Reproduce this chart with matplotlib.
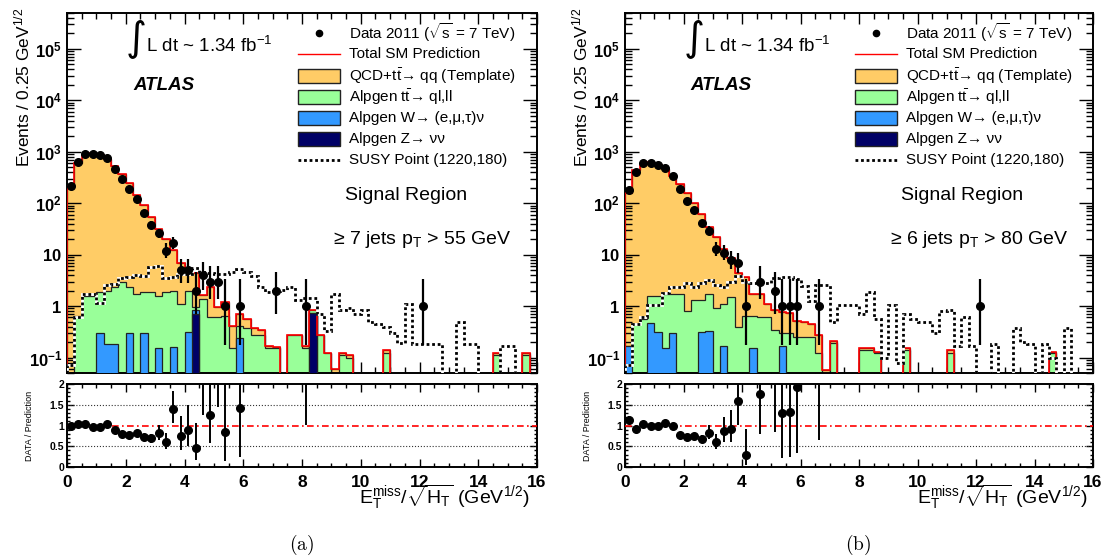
import math
import numpy as np
import matplotlib
matplotlib.use("Agg")
import matplotlib.pyplot as plt
from matplotlib.patches import Rectangle
from matplotlib.lines import Line2D
from matplotlib.ticker import (LogLocator, NullFormatter, FuncFormatter,
                               MultipleLocator, FixedLocator)

plt.rcParams['font.family'] = ['Liberation Sans', 'DejaVu Sans']
plt.rcParams['mathtext.fontset'] = 'custom'
plt.rcParams['mathtext.rm'] = 'Liberation Sans'
plt.rcParams['mathtext.it'] = 'Liberation Sans:italic'
plt.rcParams['mathtext.bf'] = 'Liberation Sans:bold'

# 64 bins of 0.25 GeV^1/2 between 0 and 16
edges = np.linspace(0, 16, 65)

# ---- panel (a): >= 7 jets pT > 55 GeV ----
data_a = [220, 630, 890, 915, 850, 765, 465, 297, 190, 121,
          66, 38, 26, 12, 17, 5, 5, 2, 4, 3,
          3, 1, 0, 1, 0, 0, 0, 0, 2, 0,
          0, 0, 1, 0, 0, 0, 0, 0, 0, 0,
          0, 0, 0, 0, 0, 0, 0, 0, 1, 0,
          0, 0, 0, 0, 0, 0, 0, 0, 0, 0,
          0, 0, 0, 0]
qcd_a = [220, 604, 853, 951, 883, 733, 526, 368, 242, 146,
         90, 53, 30.4, 18.1, 10.2, 5.7, 3.6, 3.45, 0.27, 1.8,
         0.34, 0.53, 0.26, 0.29, 0.17, 0.09, 0.07, 0.02, 0.01, 0,
         0.01, 0.01, 0.02, 0, 0.01, 0, 0.06, 0.01, 0.01, 0,
         0, 0, 0, 0.02, 0, 0, 0, 0, 0, 0,
         0, 0, 0, 0, 0, 0, 0, 0, 0.01, 0,
         0, 0, 0.01, 0]
tt_a = [0, 0.64, 1.6, 1.6, 1.6, 1.82, 2.12, 2.9, 2.0, 1.7,
        1.6, 1.9, 1.45, 1.9, 1.84, 1.1, 1.69, 0.1, 1.4, 0.6,
        0.6, 0.65, 0.15, 0.17, 0.38, 0.28, 0.28, 0.15, 0.15, 0,
        0.27, 0.27, 0.15, 0.09, 0.27, 0.12, 0, 0.11, 0.10, 0,
        0, 0, 0, 0.12, 0, 0, 0, 0, 0, 0,
        0, 0, 0, 0, 0, 0, 0, 0, 0.11, 0,
        0, 0, 0.11, 0]
w_a = [0, 0, 0, 0, 0.30, 0.18, 0.18, 0, 0.30, 0,
       0.30, 0, 0.15, 0, 0.16, 0, 0.31, 0.15, 0, 0,
       0, 0, 0, 0.24, 0, 0, 0, 0, 0, 0,
       0, 0, 0, 0, 0, 0, 0, 0, 0, 0,
       0, 0, 0, 0, 0, 0, 0, 0, 0, 0,
       0, 0, 0, 0, 0, 0, 0, 0, 0, 0,
       0, 0, 0, 0]
z_a = [0, 0, 0, 0, 0, 0, 0, 0, 0, 0,
       0, 0, 0, 0, 0, 0, 0, 0.7, 0, 0,
       0, 0, 0, 0, 0, 0, 0, 0, 0, 0,
       0, 0, 0, 0.74, 0, 0, 0, 0, 0, 0,
       0, 0, 0, 0, 0, 0, 0, 0, 0, 0,
       0, 0, 0, 0, 0, 0, 0, 0, 0, 0,
       0, 0, 0, 0]
susy_a = [0.07, 0.6, 1.7, 1.7, 1.15, 2.6, 2.7, 3.5, 3.6, 4.0,
          3.9, 5.8, 5.9, 3.5, 3.6, 4.2, 4.3, 5.5, 4.5, 4.4,
          4.2, 4.2, 4.6, 5.3, 4.5, 3.8, 2.4, 1.9, 2.0, 2.1,
          2.3, 1.3, 1.45, 1.45, 0.7, 0.33, 1.7, 0.85, 0.9, 0.7,
          0.85, 0.5, 0.45, 0.4, 0.3, 0.19, 1.1, 0.18, 0.18, 0.18,
          0.18, 0, 0, 0.5, 0.18, 0.18, 0, 0, 0, 0.17,
          0.17, 0, 0, 0]

# ---- panel (b): >= 6 jets pT > 80 GeV ----
data_b = [177, 400, 612, 612, 550, 490, 336, 185, 112, 75,
          41, 29, 13, 11, 8, 7, 1, 0, 3, 0,
          2, 1, 1, 1, 0, 0, 1, 0, 0, 0,
          0, 0, 0, 0, 0, 0, 0, 0, 0, 0,
          0, 0, 0, 0, 0, 0, 0, 0, 1, 0,
          0, 0, 0, 0, 0, 0, 0, 0, 0, 0,
          0, 0, 0, 0]
qcd_b = [154.8, 439.5, 587.4, 622.4, 559.4, 460.3, 341.3, 235.3, 155.2, 99.7,
         59.7, 33.3, 21.1, 11.7, 7.2, 4.0, 2.95, 1.05, 1.1, 0.5,
         0.5, 0.47, 0.45, 0.27, 0.25, 0.2, 0.15, 0.058, 0.02, 0,
         0, 0, 0.01, 0.01, 0.01, 0, 0, 0, 0.01, 0,
         0, 0, 0, 0, 0.02, 0, 0, 0, 0, 0,
         0, 0, 0, 0, 0, 0, 0, 0, 0.01, 0,
         0, 0, 0, 0]
tt_b = [0, 0.45, 0.55, 1.08, 1.24, 1.55, 1.4, 1.7, 0.8, 1.3,
        0.98, 1.37, 0.9, 0.93, 1.5, 0.4, 0.65, 0.5, 0.6, 0.6,
        0.35, 0.13, 0.3, 0.25, 0.25, 0.25, 0.12, 0, 0.19, 0,
        0, 0, 0.14, 0.14, 0.12, 0, 0, 0, 0.14, 0,
        0, 0, 0, 0, 0.12, 0, 0, 0, 0, 0,
        0, 0, 0, 0, 0, 0, 0, 0, 0.12, 0,
        0, 0, 0, 0]
w_b = [0.17, 0, 0, 0.47, 0.31, 0.15, 0.30, 0, 0, 0,
       0.32, 0.33, 0, 0.17, 0, 0, 0, 0.15, 0, 0,
       0, 0.17, 0, 0, 0, 0, 0, 0, 0, 0,
       0, 0, 0, 0, 0, 0, 0, 0, 0, 0,
       0, 0, 0, 0, 0, 0, 0, 0, 0, 0,
       0, 0, 0, 0, 0, 0, 0, 0, 0, 0,
       0, 0, 0, 0]
z_b = [0] * 64
susy_b = [0.07, 0.45, 0.6, 1.05, 1.05, 1.8, 2.3, 2.3, 2.8, 2.4,
          2.8, 3.2, 2.6, 2.4, 3.0, 3.9, 3.0, 2.8, 2.8, 2.8,
          3.5, 3.6, 3.6, 3.4, 2.5, 1.25, 2.6, 2.6, 0.5, 1.05,
          1.05, 1.05, 0.7, 1.9, 0.55, 0.1, 1.05, 0.08, 0.7, 0.55,
          0.5, 0.5, 0.3, 0.8, 0.85, 0.17, 0.62, 0.17, 0, 0,
          0.18, 0, 0, 0.37, 0.2, 0.18, 0, 0.18, 0.1, 0,
          0.37, 0, 0, 0]

legend_labels = [r"Data 2011 ($\sqrt{\mathrm{s}}$ = 7 TeV)",
                 "Total SM Prediction",
                 u"QCD+$\\mathrm{t\\bar{t}}$\u2192 qq (Template)",
                 u"Alpgen $\\mathrm{t\\bar{t}}$\u2192 ql,ll",
                 u"Alpgen W\u2192 (e,\u03bc,\u03c4)\u03bd",
                 u"Alpgen Z\u2192 \u03bd\u03bd",
                 "SUSY Point (1220,180)"]
jet_labels = [u"\u2265 7 jets p$_{\\mathrm{T}}$ > 55 GeV",
              u"\u2265 6 jets p$_{\\mathrm{T}}$ > 80 GeV"]

C_QCD = '#ffcc66'
C_TT = '#99ff99'
C_W = '#3399ff'
C_Z = '#000066'
FLOOR = 1e-4

FIG_W, FIG_H = 1102, 559


def rect(x0, y0, x1, y1):
    return [x0 / FIG_W, 1 - y1 / FIG_H, (x1 - x0) / FIG_W, (y1 - y0) / FIG_H]


def pois_cdf(k, mu):
    s = 0.0
    for i in range(k + 1):
        s += math.exp(-mu + i * math.log(mu) - math.lgamma(i + 1))
    return s


def garwood(n):
    if n > 30:
        return n - math.sqrt(n), n + math.sqrt(n)
    a = (1 - 0.6827) / 2
    lo = 0.0
    if n > 0:
        l, h = 1e-6, float(n)
        for _ in range(60):
            m = 0.5 * (l + h)
            if pois_cdf(n - 1, m) > 1 - a:
                l = m
            else:
                h = m
        lo = 0.5 * (l + h)
    l, h = float(n) + 1e-6, n + 10 * math.sqrt(n + 1) + 10
    for _ in range(60):
        m = 0.5 * (l + h)
        if pois_cdf(n, m) > a:
            l = m
        else:
            h = m
    return lo, 0.5 * (l + h)


def pos(v):
    return np.where(v > 0, v, FLOOR)


def log_label(v, p):
    e = int(round(np.log10(v)))
    if e == 0:
        return r'$\mathbf{1}$'
    if e == 1:
        return r'$\mathbf{10}$'
    return r'$\mathbf{10^{%d}}$' % e


def draw_panel(ax, rax, data, qcd, tt, w, z, susy, jets):
    data = np.array(data, float)
    s_z = np.array(z, float)
    s_w = s_z + np.array(w, float)
    s_tt = s_w + np.array(tt, float)
    s_tot = s_tt + np.array(qcd, float)

    for vals, col, zo in [(s_tot, C_QCD, 1), (s_tt, C_TT, 2), (s_w, C_W, 3), (s_z, C_Z, 4)]:
        ax.stairs(pos(vals), edges, baseline=FLOOR, fill=True, facecolor=col,
                  edgecolor='#222222', linewidth=0.9, zorder=zo)
    ax.stairs(pos(s_tot), edges, baseline=FLOOR, color='red', linewidth=1.2, zorder=5)
    ax.stairs(pos(np.array(susy, float)), edges, baseline=FLOOR, color='white',
              linewidth=2.0, zorder=6)
    ax.stairs(pos(np.array(susy, float)), edges, baseline=FLOOR, color='black',
              linewidth=2.0, linestyle=(0, (1, 1)), zorder=7)

    centers = 0.5 * (edges[:-1] + edges[1:])
    m = data > 0
    ints = [garwood(int(n)) for n in data[m]]
    lo = np.array([n - i[0] for n, i in zip(data[m], ints)])
    hi = np.array([i[1] - n for n, i in zip(data[m], ints)])
    ax.errorbar(centers[m], data[m], yerr=[lo, hi], fmt='o', color='black',
                ms=5.5, elinewidth=1.6, capsize=0, zorder=8)

    ax.set_yscale('log')
    ax.set_xlim(0, 16)
    ax.set_ylim(0.05, 5e5)
    ax.yaxis.set_major_locator(LogLocator(base=10, numticks=20))
    ax.yaxis.set_minor_locator(LogLocator(base=10, subs=np.arange(2, 10), numticks=20))
    ax.yaxis.set_major_formatter(FuncFormatter(log_label))
    ax.yaxis.set_minor_formatter(NullFormatter())
    ax.xaxis.set_major_locator(MultipleLocator(2))
    ax.xaxis.set_minor_locator(MultipleLocator(0.5))
    ax.tick_params(which='both', direction='in', top=True, right=True,
                   labelbottom=False, labelsize=12, width=1)
    ax.tick_params(axis='y', which='major', length=10)
    ax.tick_params(axis='y', which='minor', length=5)
    ax.tick_params(axis='x', which='major', length=8)
    ax.tick_params(axis='x', which='minor', length=4)
    for sp in ax.spines.values():
        sp.set_linewidth(1.4)

    # text annotations (axes fraction from pixel layout of the panel)
    def P(px, py):
        return ((px - 67) / 470.0, (373 - py) / 360.0)

    ax.text(*P(136, 38), u"\u222b", transform=ax.transAxes, fontsize=29,
            family='DejaVu Sans', ha='center', va='center')
    ax.text(*P(146, 46), r"L dt ~ 1.34 fb$^{-1}$", transform=ax.transAxes,
            fontsize=13.5, ha='left', va='center')
    ax.text(*P(133, 85), "ATLAS", transform=ax.transAxes, fontsize=13.5,
            fontweight='bold', fontstyle='italic', ha='left', va='center')
    ax.text(*P(406, 195), "Signal Region", transform=ax.transAxes,
            fontsize=14, ha='center', va='center')
    ax.text(*P(333, 240), jets, transform=ax.transAxes, fontsize=14,
            ha='left', va='center')

    rows = [33, 54, 76, 97, 118, 139, 160]
    x0, x1 = P(298, 0)[0], P(340, 0)[0]
    for i, (lab, py) in enumerate(zip(legend_labels, rows)):
        yy = P(0, py)[1]
        ax.text(P(349, 0)[0], yy, lab, transform=ax.transAxes, fontsize=11,
                ha='left', va='center')
        if i == 0:
            ax.add_line(Line2D([0.5 * (x0 + x1)], [yy], marker='o', ms=4.5,
                               color='black', transform=ax.transAxes, clip_on=False))
        elif i == 1:
            ax.add_line(Line2D([x0, x1], [yy, yy], color='red', lw=1,
                               transform=ax.transAxes, clip_on=False))
        elif i == 6:
            ax.add_line(Line2D([x0, x1], [yy, yy], color='black', lw=2,
                               linestyle=(0, (1, 1)), transform=ax.transAxes,
                               clip_on=False))
        else:
            col = [C_QCD, C_TT, C_W, C_Z][i - 2]
            hh = 14 / 360.0
            ax.add_patch(Rectangle((x0, yy - hh / 2), x1 - x0, hh, facecolor=col,
                                   edgecolor='#222222', lw=1,
                                   transform=ax.transAxes, clip_on=False))

    # ratio panel
    tot_m = s_tot[m]
    ok = tot_m > 0
    r = data[m][ok] / tot_m[ok]
    rax.errorbar(centers[m][ok], r, yerr=[lo[ok] / tot_m[ok], hi[ok] / tot_m[ok]],
                 fmt='o', color='black', ms=5.5, elinewidth=1.4, capsize=0, zorder=5)
    rax.axhline(1, color='red', lw=1.2, ls=(0, (4, 2, 1, 2)), zorder=3)
    for yv in (0.5, 1.5):
        rax.axhline(yv, color='#333333', lw=0.8, ls=':', zorder=2)
    rax.set_xlim(0, 16)
    rax.set_ylim(0, 2)
    rax.yaxis.set_major_locator(FixedLocator([0, 0.5, 1, 1.5, 2]))
    rax.yaxis.set_major_formatter(FuncFormatter(
        lambda v, p: {0: '0', 0.5: '0.5', 1: '1', 1.5: '1.5', 2: '2'}[v]))
    rax.yaxis.set_minor_locator(MultipleLocator(0.1))
    rax.xaxis.set_major_locator(MultipleLocator(2))
    rax.xaxis.set_minor_locator(MultipleLocator(0.5))
    rax.tick_params(which='both', direction='in', top=True, right=True, width=1)
    rax.tick_params(axis='x', which='major', length=6, labelsize=12.5, pad=6)
    rax.tick_params(axis='x', which='minor', length=3)
    rax.tick_params(axis='y', which='major', length=5, labelsize=7.5, pad=2)
    rax.tick_params(axis='y', which='minor', length=2.5)
    for lab in rax.get_xticklabels() + rax.get_yticklabels():
        lab.set_fontweight('bold')
    for sp in rax.spines.values():
        sp.set_linewidth(1.4)
    rax.set_ylabel("DATA / Prediction", fontsize=6.5)
    rax.yaxis.set_label_coords(-0.07, 0.5)


fig = plt.figure(figsize=(FIG_W / 100, FIG_H / 100), dpi=100)
fig.patch.set_facecolor('white')

ax_a = fig.add_axes(rect(67, 13, 537, 373))
rax_a = fig.add_axes(rect(67, 384, 537, 467))
ax_b = fig.add_axes(rect(625, 13, 1093, 373))
rax_b = fig.add_axes(rect(625, 384, 1093, 467))

draw_panel(ax_a, rax_a, data_a, qcd_a, tt_a, w_a, z_a, susy_a, jet_labels[0])
draw_panel(ax_b, rax_b, data_b, qcd_b, tt_b, w_b, z_b, susy_b, jet_labels[1])

for off, cap, xcap in [(0, r'$\mathrm{(a)}$', 302), (558, r'$\mathrm{(b)}$', 858)]:
    fig.text((22 + off) / FIG_W, 1 - 8 / FIG_H, r"Events / 0.25 GeV$^{1/2}$",
             rotation=90, ha='center', va='top', fontsize=12.5)
    fig.text((530 + off) / FIG_W, 1 - 497 / FIG_H,
             r"$\mathrm{E_{T}^{miss}/\sqrt{H_{T}}}$ (GeV$^{1/2}$)",
             ha='right', va='center', fontsize=14)
    fig.text(xcap / FIG_W, 1 - 545 / FIG_H, cap, ha='center', va='center',
             fontsize=14, math_fontfamily='cm')

fig.savefig('out.png', dpi=100)
